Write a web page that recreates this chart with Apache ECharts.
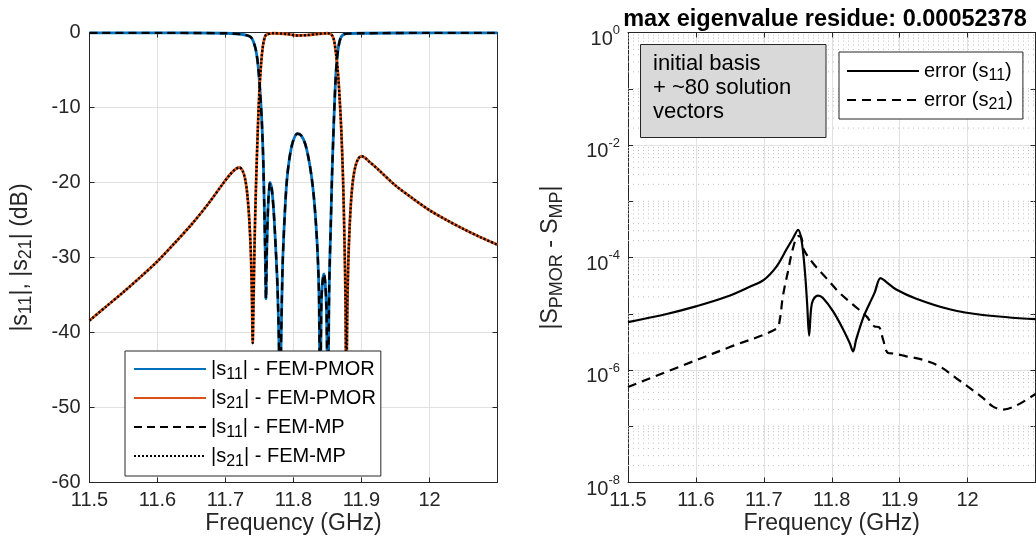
<!DOCTYPE html>
<html>
<head>
<meta charset="utf-8">
<script src="https://cdn.jsdelivr.net/npm/echarts@6/dist/echarts.min.js"></script>
<style>
  html, body { margin: 0; padding: 0; background: #fff; }
  #chart { width: 1036px; height: 540px; }
</style>
</head>
<body>
<div id="chart"></div>
<script>
// left panel: |s11| and |s21| in dB (FEM-PMOR and FEM-MP curves coincide)
var f11 = [11.5, 11.6, 11.7, 11.72, 11.73, 11.737, 11.741, 11.745, 11.748, 11.751, 11.7535, 11.7555, 11.757, 11.7585, 11.7595,
  11.761, 11.763, 11.7655, 11.768, 11.771, 11.774, 11.7765, 11.7785, 11.78, 11.782, 11.784, 11.787, 11.79, 11.794, 11.799,
  11.8055, 11.811, 11.817, 11.822, 11.8265, 11.83, 11.833, 11.8355, 11.8375, 11.8393, 11.841, 11.843, 11.8448, 11.8465,
  11.8485, 11.8505, 11.8525, 11.855, 11.857, 11.8595, 11.8615, 11.8635, 11.866, 11.869, 11.873, 11.88, 11.9, 12.0, 12.1];
var s11 = [-0.05, -0.05, -0.1, -0.2, -0.35, -0.6, -1.2, -2.5, -4.5, -8, -12, -17, -23, -30, -35.5,
  -28, -22.5, -20, -20.8, -24, -29, -34, -41, -50, -40, -31, -24.5, -20, -16.8, -14.6,
  -13.5, -13.7, -14.8, -16.7, -19.2, -22, -25.5, -29.5, -35, -50, -36, -33, -32.2, -33.2,
  -37, -50, -34, -25, -18, -11.5, -7, -4, -2, -0.8, -0.3, -0.15, -0.1, -0.05, -0.05];

var f21 = [11.5, 11.525, 11.55, 11.575, 11.6, 11.625, 11.65, 11.675, 11.695, 11.707, 11.715, 11.7205, 11.725, 11.729,
  11.732, 11.735, 11.7375, 11.739, 11.74, 11.7412, 11.743, 11.745, 11.7475, 11.75, 11.7525, 11.755, 11.7575, 11.76,
  11.77, 11.79, 11.805, 11.82, 11.835, 11.85, 11.856, 11.8595, 11.8625, 11.8655, 11.868, 11.8705, 11.873, 11.875,
  11.8765, 11.8775, 11.879, 11.8805, 11.8825, 11.885, 11.888, 11.8915, 11.8955, 11.9, 11.905, 11.91, 11.925, 11.95,
  11.975, 12.0, 12.025, 12.05, 12.075, 12.1];
var s21 = [-38.4, -36.5, -34.6, -32.6, -30.5, -28.1, -25.6, -22.8, -20.3, -18.9, -18.2, -18.0, -18.4, -19.6,
  -21.5, -25, -30, -36, -41.4, -36, -27, -20, -13, -7.5, -4, -1.8, -0.7, -0.3,
  -0.1, -0.2, -0.4, -0.35, -0.2, -0.1, -0.3, -1, -2.8, -5.5, -9, -13.5, -20, -28,
  -36, -50, -38, -31, -26, -22, -19.3, -17.7, -16.8, -16.5, -16.7, -17.1, -18.3, -20.4,
  -22.1, -23.7, -25.0, -26.2, -27.3, -28.3];

// right panel: |S_PMOR - S_MP|
var fe11 = [11.5, 11.557, 11.6, 11.645, 11.68, 11.7, 11.7186, 11.733, 11.743, 11.7505, 11.7554, 11.7603, 11.7637,
  11.7667, 11.7695, 11.7725, 11.78, 11.787, 11.802, 11.817, 11.8265, 11.8314, 11.836, 11.846, 11.856, 11.863, 11.872,
  11.88, 11.895, 11.9245, 11.9735, 12.0225, 12.1];
var e11 = [7.1e-6, 9.9e-6, 1.35e-5, 2.0e-5, 3.05e-5, 4.0e-5, 6.9e-5, 1.37e-4, 2.2e-4, 3.1e-4, 2.06e-4, 6.0e-5, 1.55e-5,
  4.1e-6, 1.2e-5, 1.75e-5, 2.1e-5, 1.9e-5, 1.1e-5, 5.2e-6, 3.0e-6, 2.15e-6, 3.5e-6, 8.3e-6, 1.55e-5, 2.35e-5, 4.3e-5,
  3.7e-5, 2.7e-5, 1.85e-5, 1.2e-5, 9.5e-6, 8.0e-6];

var fe21 = [11.5, 11.6, 11.65, 11.7186, 11.7235, 11.728, 11.736, 11.743, 11.7505, 11.755, 11.759, 11.7725, 11.792,
  11.8118, 11.8314, 11.851, 11.863, 11.8696, 11.8755, 11.883, 11.8926, 11.91, 11.934, 11.9588, 11.983, 12.003,
  12.0225, 12.037, 12.052, 12.0716, 12.1];
var e21 = [5.0e-7, 1.49e-6, 2.56e-6, 5.4e-6, 7.8e-6, 2.03e-5, 6.0e-5, 1.47e-4, 2.4e-4, 2.3e-4, 1.37e-4, 7.9e-5, 4.3e-5,
  2.33e-5, 1.45e-5, 9.0e-6, 5.95e-6, 5.8e-6, 3.5e-6, 2.0e-6, 1.95e-6, 1.75e-6, 1.52e-6, 1.16e-6, 7.2e-7, 4.8e-7,
  3.2e-7, 2.26e-7, 1.98e-7, 2.33e-7, 3.75e-7];

var freqRange = [11.5, 12.1];
var dbRange = [-60, 0];
var errRange = [1e-8, 1];

var legendLeft = {
  s11p: '|s{sub|11}| - FEM-PMOR',
  s21p: '|s{sub|21}| - FEM-PMOR',
  s11m: '|s{sub|11}| - FEM-MP',
  s21m: '|s{sub|21}| - FEM-MP'
};
var legendRight = {
  e11: 'error (s{sub|11})',
  e21: 'error (s{sub|21})'
};

function pairs(xs, ys) {
  return xs.map(function (x, i) { return [x, ys[i]]; });
}

// dotted minor grid of the log panel: 2..9 x 10^k and the unlabeled decades,
// drawn as broken horizontal segments across the frequency range
var minorGrid = [];
for (var k = -8; k < 0; k++) {
  var levels = [];
  if (k % 2 !== 0) levels.push(Math.pow(10, k));
  for (var m = 2; m <= 9; m++) levels.push(Number((m * Math.pow(10, k)).toPrecision(3)));
  levels.forEach(function (v) {
    minorGrid.push([freqRange[0], v], [freqRange[1], v], [freqRange[1], '-']);
  });
}

var ink = '#262626';
var gridColor = '#e1e1e1';
var font = '"Liberation Sans", Arial, Helvetica, sans-serif';

var chart = echarts.init(document.getElementById('chart'), null, { renderer: 'canvas' });

function freqAxis(gridIndex, top) {
  return {
    type: 'value',
    gridIndex: gridIndex,
    position: top ? 'top' : 'bottom',
    min: freqRange[0],
    max: freqRange[1],
    interval: 0.1,
    name: top ? '' : 'Frequency (GHz)',
    nameLocation: 'middle',
    nameGap: 30,
    nameMoveOverlap: false,
    nameTextStyle: { fontSize: 23, color: ink },
    axisLine: { show: true, onZero: false, lineStyle: { color: ink, width: 1 } },
    axisTick: { show: true, inside: true, length: 5, lineStyle: { color: ink } },
    axisLabel: {
      show: !top,
      color: ink,
      fontSize: 20,
      margin: 8,
      formatter: function (v) { return v > 12.05 ? '' : String(v); }
    },
    splitLine: { show: !top, lineStyle: { color: gridColor, width: 1 } }
  };
}

var legendSub = { sub: { fontSize: 16, verticalAlign: 'bottom' } };
var nameSub = { sub: { fontSize: 18, verticalAlign: 'bottom' } };

function curve(name, xi, yi, xs, ys, color, type, width, smooth, z) {
  return {
    name: name, type: 'line', xAxisIndex: xi, yAxisIndex: yi, data: pairs(xs, ys),
    symbol: 'none', smooth: smooth,
    lineStyle: { color: color, width: width, type: type }, itemStyle: { color: color }, z: z
  };
}

chart.setOption({
  animation: false,
  textStyle: { fontFamily: font },
  title: {
    text: 'max eigenvalue residue: 0.00052378',
    left: 820,
    top: 3,
    textAlign: 'center',
    textStyle: { fontSize: 23.5, fontWeight: 'bold', color: '#000', fontFamily: font }
  },
  grid: [
    { left: 89.5, top: 32.5, width: 408, height: 450, outerBoundsMode: 'none' },
    { left: 628, top: 32.5, width: 407.5, height: 450, outerBoundsMode: 'none' }
  ],
  legend: [
    {
      data: ['s11p', 's21p', 's11m', 's21m'],
      orient: 'vertical',
      left: 125,
      top: 351,
      padding: [4, 5, 6, 8],
      itemGap: 1,
      itemWidth: 72,
      itemHeight: 14,
      selectedMode: false,
      backgroundColor: '#fff',
      borderColor: ink,
      borderWidth: 1,
      borderRadius: 0,
      itemStyle: { opacity: 0 },
      formatter: function (n) { return legendLeft[n]; },
      textStyle: { fontSize: 20, color: '#000', lineHeight: 28, rich: legendSub }
    },
    {
      data: ['e11', 'e21'],
      orient: 'vertical',
      left: 839,
      top: 52,
      padding: [6, 10, 6, 7],
      itemGap: 3,
      itemWidth: 72,
      itemHeight: 14,
      selectedMode: false,
      backgroundColor: '#fff',
      borderColor: ink,
      borderWidth: 1,
      borderRadius: 0,
      itemStyle: { opacity: 0 },
      formatter: function (n) { return legendRight[n]; },
      textStyle: { fontSize: 20, color: '#000', lineHeight: 26, rich: legendSub }
    }
  ],
  xAxis: [freqAxis(0, false), freqAxis(0, true), freqAxis(1, false), freqAxis(1, true)],
  yAxis: [
    {
      type: 'value', gridIndex: 0, position: 'left',
      min: dbRange[0], max: dbRange[1], interval: 10,
      name: '|s{sub|11}|, |s{sub|21}| (dB)',
      nameLocation: 'middle', nameGap: 54, nameMoveOverlap: false,
      nameTextStyle: { fontSize: 23, color: ink, lineHeight: 30, rich: nameSub },
      axisLine: { show: true, onZero: false, lineStyle: { color: ink } },
      axisTick: { show: true, inside: true, length: 5, lineStyle: { color: ink } },
      axisLabel: { color: ink, fontSize: 20, margin: 9 },
      splitLine: { show: true, lineStyle: { color: gridColor } }
    },
    {
      type: 'value', gridIndex: 0, position: 'right',
      min: dbRange[0], max: dbRange[1], interval: 10,
      axisLine: { show: true, onZero: false, lineStyle: { color: ink } },
      axisTick: { show: true, inside: true, length: 5, lineStyle: { color: ink } },
      axisLabel: { show: false },
      splitLine: { show: false }
    },
    {
      type: 'log', logBase: 10, gridIndex: 1, position: 'left',
      min: errRange[0], max: errRange[1],
      name: '|S{sub|PMOR} - S{sub|MP}|',
      nameLocation: 'middle', nameGap: 62, nameMoveOverlap: false,
      nameTextStyle: { fontSize: 23, color: ink, lineHeight: 30, rich: nameSub },
      axisLine: { show: true, onZero: false, lineStyle: { color: ink } },
      axisTick: { show: true, inside: true, length: 5, lineStyle: { color: ink } },
      axisLabel: {
        color: ink, fontSize: 20, margin: 8, lineHeight: 25, padding: [8, 0, 0, 0],
        formatter: function (v) {
          var e = Math.round(Math.log10(v));
          return e % 2 === 0 ? '{b|10}{sup|' + e + '}' : '';
        },
        rich: {
          b: { fontSize: 20, lineHeight: 25, verticalAlign: 'bottom' },
          sup: { fontSize: 13, lineHeight: 13, verticalAlign: 'top' }
        }
      },
      splitLine: { show: true, lineStyle: { color: [gridColor, 'rgba(0,0,0,0)'] } }
    },
    {
      type: 'log', logBase: 10, gridIndex: 1, position: 'right',
      min: errRange[0], max: errRange[1],
      axisLine: { show: true, onZero: false, lineStyle: { color: ink } },
      axisTick: { show: true, inside: true, length: 5, lineStyle: { color: ink } },
      axisLabel: { show: false },
      splitLine: { show: false }
    }
  ],
  graphic: [
    {
      type: 'rect',
      shape: { x: 640.5, y: 44.5, width: 185.5, height: 93 },
      style: { fill: '#d9d9d9', stroke: ink, lineWidth: 1 },
      z: 10
    },
    {
      type: 'text',
      x: 653, y: 52,
      style: {
        text: 'initial basis\n+ ~80 solution\nvectors',
        fill: '#000',
        fontSize: 22,
        fontFamily: font,
        lineHeight: 24
      },
      z: 11
    }
  ],
  series: [
    {
      name: 'minor-grid', type: 'line', xAxisIndex: 2, yAxisIndex: 2, data: minorGrid,
      symbol: 'none', silent: true, connectNulls: false, z: 1,
      lineStyle: { color: '#c0c0c0', type: [1, 4], width: 1 }
    },
    curve('s11p', 0, 0, f11, s11, '#0072BD', 'solid', 2.8, 0.3, 2),
    curve('s21p', 0, 0, f21, s21, '#D95319', 'solid', 2.8, 0.3, 2),
    curve('s11m', 0, 0, f11, s11, '#000', [8, 5], 2.4, 0.3, 3),
    curve('s21m', 0, 0, f21, s21, '#000', [2, 2], 2.4, 0.3, 3),
    curve('e11', 2, 2, fe11, e11, '#000', 'solid', 2.2, 0.35, 3),
    curve('e21', 2, 2, fe21, e21, '#000', [9, 6], 2.2, 0.35, 3)
  ]
});
</script>
</body>
</html>
